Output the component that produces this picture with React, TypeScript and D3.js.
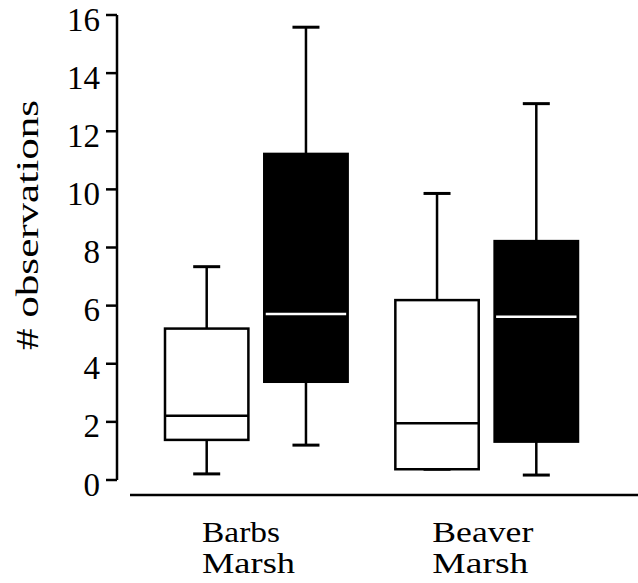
import React from "react";
import * as d3 from "d3";

const groups = ["Barbs Marsh", "Beaver Marsh"];
const groupLines = [["Barbs", "Marsh"], ["Beaver", "Marsh"]];
const series = ["open", "filled"];
// values per box, order: Barbs open, Barbs filled, Beaver open, Beaver filled
const whiskerLow = [0.21, 1.2, 0.37, 0.17];
const q1 = [1.38, 3.38, 0.37, 1.32];
const median = [2.21, 5.71, 1.95, 5.62];
const q3 = [5.21, 11.22, 6.19, 8.22];
const whiskerHigh = [7.34, 15.58, 9.86, 12.95];
const yTicks = [0, 2, 4, 6, 8, 10, 12, 14, 16];
const yLabel = "# observations";

const W = 638;
const H = 583;
const FONT = "Liberation Serif";

export default function App() {
  const y = d3.scaleLinear().domain([0, 16]).range([480, 15]);
  const x = d3.scaleBand<string>().domain(groups).range([165, 578]).paddingInner(0.207).paddingOuter(0);
  const xi = d3.scaleBand<string>().domain(series).range([0, x.bandwidth()]).paddingInner(0.16);
  const bw = xi.bandwidth();
  const capW = 27;
  const boxes = groups.flatMap((g, gi) =>
    series.map((s, si) => {
      const i = gi * 2 + si;
      const x0 = (x(g) ?? 0) + (xi(s) ?? 0);
      return { i, s, x0, cx: x0 + bw / 2 };
    })
  );
  const labelLens = [[78, 93], [101, 96]];
  return (
    <svg width={W} height={H} style={{ position: "absolute", left: 0, top: 0, background: "#fff" }}>
      {/* y axis */}
      <line x1={117} x2={117} y1={y(16)} y2={y(0)} stroke="#000" strokeWidth={2.5} />
      {yTicks.map((t) => (
        <g key={t}>
          <line x1={106} x2={117} y1={y(t)} y2={y(t)} stroke="#000" strokeWidth={2.5} />
          <text x={100} y={y(t) + 15.5} textAnchor="end" style={{ fontFamily: FONT, fontSize: 33 }} fill="#000">
            {t}
          </text>
        </g>
      ))}
      <text
        transform={`translate(38,225) rotate(-90)`}
        textAnchor="middle"
        style={{ fontFamily: FONT, fontSize: 31 }}
        textLength={250}
        lengthAdjust="spacingAndGlyphs"
        fill="#000"
      >
        {yLabel}
      </text>
      {/* x axis line */}
      <line x1={130} x2={638} y1={495} y2={495} stroke="#000" strokeWidth={2.5} />
      {groups.map((g, gi) => (
        <g key={g}>
          {groupLines[gi].map((ln, li) => (
            <text
              key={li}
              x={(x(g) ?? 0) + 37}
              y={542 + li * 31}
              style={{ fontFamily: FONT, fontSize: 29 }}
              textLength={labelLens[gi][li]}
              lengthAdjust="spacingAndGlyphs"
              fill="#000"
            >
              {ln}
            </text>
          ))}
        </g>
      ))}
      {/* boxes */}
      {boxes.map(({ i, s, x0, cx }) => {
        const filled = s === "filled";
        return (
          <g key={i}>
            <line x1={cx} x2={cx} y1={y(q3[i])} y2={y(whiskerHigh[i])} stroke="#000" strokeWidth={2.5} />
            <line x1={cx} x2={cx} y1={y(q1[i])} y2={y(whiskerLow[i])} stroke="#000" strokeWidth={2.5} />
            <line x1={cx - capW / 2} x2={cx + capW / 2} y1={y(whiskerHigh[i])} y2={y(whiskerHigh[i])} stroke="#000" strokeWidth={3} />
            <line x1={cx - capW / 2} x2={cx + capW / 2} y1={y(whiskerLow[i])} y2={y(whiskerLow[i])} stroke="#000" strokeWidth={3} />
            <rect
              x={x0}
              y={y(q3[i])}
              width={bw}
              height={y(q1[i]) - y(q3[i])}
              fill={filled ? "#000" : "#fff"}
              stroke="#000"
              strokeWidth={2.5}
            />
            <line
              x1={x0 + (filled ? 1.5 : 0)}
              x2={x0 + bw - (filled ? 1.5 : 0)}
              y1={y(median[i])}
              y2={y(median[i])}
              stroke={filled ? "#fff" : "#000"}
              strokeWidth={2.5}
            />
          </g>
        );
      })}
    </svg>
  );
}
